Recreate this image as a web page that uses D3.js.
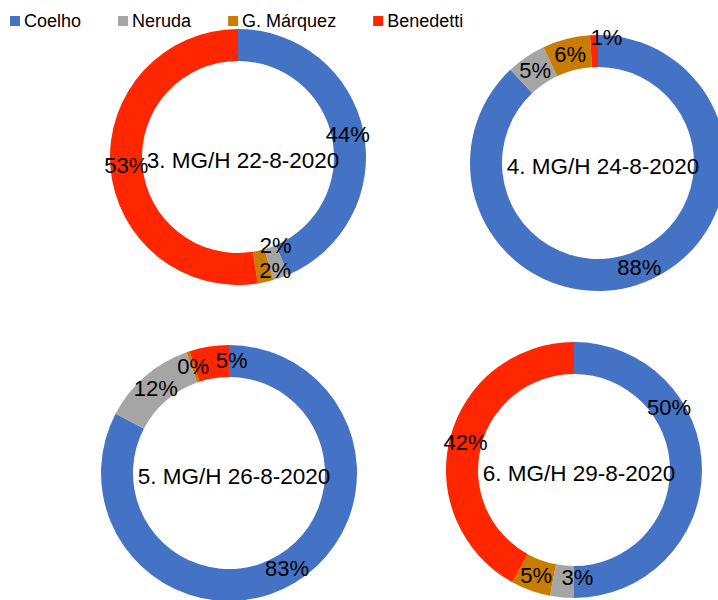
<!DOCTYPE html>
<html>
<head>
<meta charset="utf-8">
<script src="https://cdn.jsdelivr.net/npm/d3@7"></script>
<style>
  html, body { margin: 0; padding: 0; background: #ffffff; }
  svg { display: block; font-family: "Liberation Sans", Arial, Helvetica, sans-serif; }
</style>
</head>
<body>
<svg id="chart" width="718" height="600"></svg>
<script>
// ---- data ----
const categories = ["Coelho", "Neruda", "G. Márquez", "Benedetti"];
const chartTitles = ["3. MG/H 22-8-2020", "4. MG/H 24-8-2020", "5. MG/H 26-8-2020", "6. MG/H 29-8-2020"];
const coelho    = [44, 88, 83, 50];
const neruda    = [2, 5, 12, 3];
const marquez   = [2, 6, 0.4, 5];
const benedetti = [53, 1, 5, 42];

// ---- styling / layout ----
const colors = ["#4472C4", "#A5A5A5", "#C97D00", "#FF2600"];
const centers = [[238, 157], [598, 163], [229, 473], [574, 470]];
const outerR = 128, innerR = 96, labelR = 112;
// label nudges (Excel-style collision avoidance), [chart][category] -> [dx, dy]
const nudges = {
  "0-1": [0, -17], "0-2": [13, 4],
  "1-3": [12, -14],
  "2-3": [20, -2],
  "3-0": [-17, -63], "3-1": [14, -4]
};

const svg = d3.select("#chart");
const color = d3.scaleOrdinal().domain(categories).range(colors);
const fmt = d3.format(".0f");

const pie = d3.pie().sort(null).value(d => d.value);
const arc = d3.arc().innerRadius(innerR).outerRadius(outerR);
const labelArc = d3.arc().innerRadius(labelR).outerRadius(labelR);

chartTitles.forEach((title, i) => {
  const rows = categories.map((c, k) => ({
    cat: c,
    value: [coelho, neruda, marquez, benedetti][k][i]
  }));
  const arcs = pie(rows);
  const g = svg.append("g").attr("transform", `translate(${centers[i][0]},${centers[i][1]})`);

  g.selectAll("path.slice").data(arcs).join("path")
    .attr("class", "slice")
    .attr("d", arc)
    .attr("fill", d => color(d.data.cat));

  g.append("text")
    .attr("x", 5).attr("y", 3)
    .attr("text-anchor", "middle")
    .attr("dominant-baseline", "central")
    .attr("font-size", 22.5)
    .attr("fill", "#000")
    .text(title);

  g.selectAll("text.lbl").data(arcs).join("text")
    .attr("class", "lbl")
    .attr("transform", (d, k) => {
      const [x, y] = labelArc.centroid(d);
      const n = nudges[i + "-" + k] || [0, 0];
      return `translate(${x + n[0]},${y + n[1]})`;
    })
    .attr("text-anchor", "middle")
    .attr("dominant-baseline", "central")
    .attr("font-size", 22)
    .attr("fill", "#000")
    .text(d => fmt(d.data.value) + "%");
});

// legend
const legend = svg.append("g").attr("class", "legend");
let lx = 10;
categories.forEach(c => {
  const item = legend.append("g").attr("transform", `translate(${lx},0)`);
  item.append("rect").attr("x", 0).attr("y", 16).attr("width", 10).attr("height", 10)
    .attr("fill", color(c));
  const t = item.append("text").attr("x", 14).attr("y", 27)
    .attr("font-size", 18).attr("fill", "#000").text(c);
  lx += 14 + t.node().getComputedTextLength() + 37;
});
</script>
</body>
</html>
